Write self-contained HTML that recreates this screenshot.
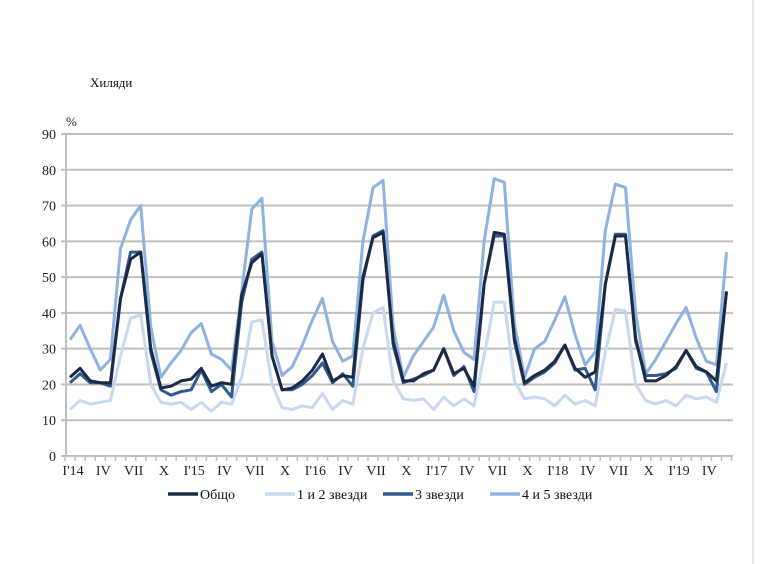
<!DOCTYPE html>
<html><head><meta charset="utf-8"><style>
body{margin:0;background:#fff;}
svg{display:block;font-family:"Liberation Serif",serif;}
</style></head><body>
<svg id="c" width="768" height="564" xmlns="http://www.w3.org/2000/svg"></svg>
<script>
const s=document.getElementById('c');
const Y=v=>456-v*3.578, X=i=>70+i*10.1;
let h='';
h+='<line x1="753" y1="0" x2="753" y2="564" stroke="#e6e6e6" stroke-width="2"/>';
for(let v=10;v<=90;v+=10) h+=`<line x1="66" y1="${Y(v)}" x2="733" y2="${Y(v)}" stroke="#bfbfbf" stroke-width="2"/>`;
h+=`<line x1="66" y1="134" x2="66" y2="456" stroke="#bfbfbf" stroke-width="2"/>`;
h+=`<line x1="62" y1="456" x2="733" y2="456" stroke="#bfbfbf" stroke-width="2"/>`;
for(let v=0;v<=90;v+=10){h+=`<line x1="61" y1="${Y(v)}" x2="66" y2="${Y(v)}" stroke="#bfbfbf" stroke-width="2"/>`;h+=`<text x="56" y="${Y(v)+5}" font-size="14" text-anchor="end" fill="#222">${v}</text>`;}
for(let i=0;i<=66;i++){h+=`<line x1="${65+i*10.1}" y1="456" x2="${65+i*10.1}" y2="461" stroke="#bfbfbf" stroke-width="1.5"/>`;}
const lab=["I'14","IV","VII","X","I'15","IV","VII","X","I'16","IV","VII","X","I'17","IV","VII","X","I'18","IV","VII","X","I'19","IV"];
lab.forEach((t,k)=>h+=`<text x="${X(k*3)+3}" y="475" font-size="14" text-anchor="middle" fill="#222">${t}</text>`);
h+=`<text x="90" y="87" font-size="13" fill="#111">Хиляди</text>`;
h+=`<text x="66" y="126" font-size="13" fill="#222">%</text>`;
const d={
o:[22,24.5,21,20.5,20.5,44,55,57,30,19,19.5,21, 21.5,24.5,19.5,20.5,20,45,54,56.5,28,18.5,19,21, 24,28.5,21,22.5,22,50,61,62.5,32,21,21,23, 24,30,23,24.5,19.5,48,62.5,62,33,20.5,22.5,24, 26.5,31,24.5,22,23.5,48,61.5,61.5,33,21,21,22.5, 25,29.5,25,23.5,21,46],
a:[13,15.5,14.5,15,15.5,28,38.5,39.5,20,15,14.5,15, 13,15,12.5,15,14.5,22,37.5,38,20,13.5,13,14, 13.5,17.5,13,15.5,14.5,30,40,41.5,21,16,15.5,16, 13,16.5,14,16,14,28,43,43,21,16,16.5,16, 14,17,14.5,15.5,14,29,41,40.5,20,15.5,14.5,15.5, 14,17,16,16.5,15,26],
b:[20.5,23,20.5,20.5,19.5,44,57,57,29,18.5,17,18, 18.5,24,18,20,16.5,43,55,57,28,18.5,18.5,20, 22.5,26,20.5,23,19.5,49,61.5,63,31,20.5,21.5,22.5, 24,30,22.5,25,18,48,61.5,61.5,32,20,22,23.5, 26,31,24,24.5,18.5,48,62,62,32,22.5,22.5,23, 24.5,29.5,24.5,23.5,18,46],
c:[32.5,36.5,30,24,27,58,66,70,36,22,26,29.5, 34.5,37,28.5,27,24,46,69,72,32,22.5,25,31, 38,44,32,26.5,28,60,75,77,36,22,28,32, 36,45,35,29,27,60,77.5,76.5,37,22,30,32, 38,44.5,34,25.5,29,63,76,75,40,23,27,32, 37,41.5,33,26.5,25.5,57]};
const pl=(a,c)=>`<polyline fill="none" stroke="${c}" stroke-width="3" stroke-linejoin="round" points="${a.map((v,i)=>X(i).toFixed(1)+','+Y(v).toFixed(1)).join(' ')}"/>`;
h+=pl(d.a,'#c6d9f0')+pl(d.c,'#8db3e2')+pl(d.b,'#2f5b8f')+pl(d.o,'#1c2b45');
const lg=[[168,'#1c2b45','Общо'],[265,'#c6d9f0','1 и 2 звезди'],[383,'#2f5b8f','3 звезди'],[490,'#8db3e2','4 и 5 звезди']];
lg.forEach(([x,c,t])=>{h+=`<line x1="${x}" y1="494" x2="${x+30}" y2="494" stroke="${c}" stroke-width="3.5"/><text x="${x+32}" y="499" font-size="14" fill="#111">${t}</text>`;});
s.innerHTML=h;
</script>
</body></html>
